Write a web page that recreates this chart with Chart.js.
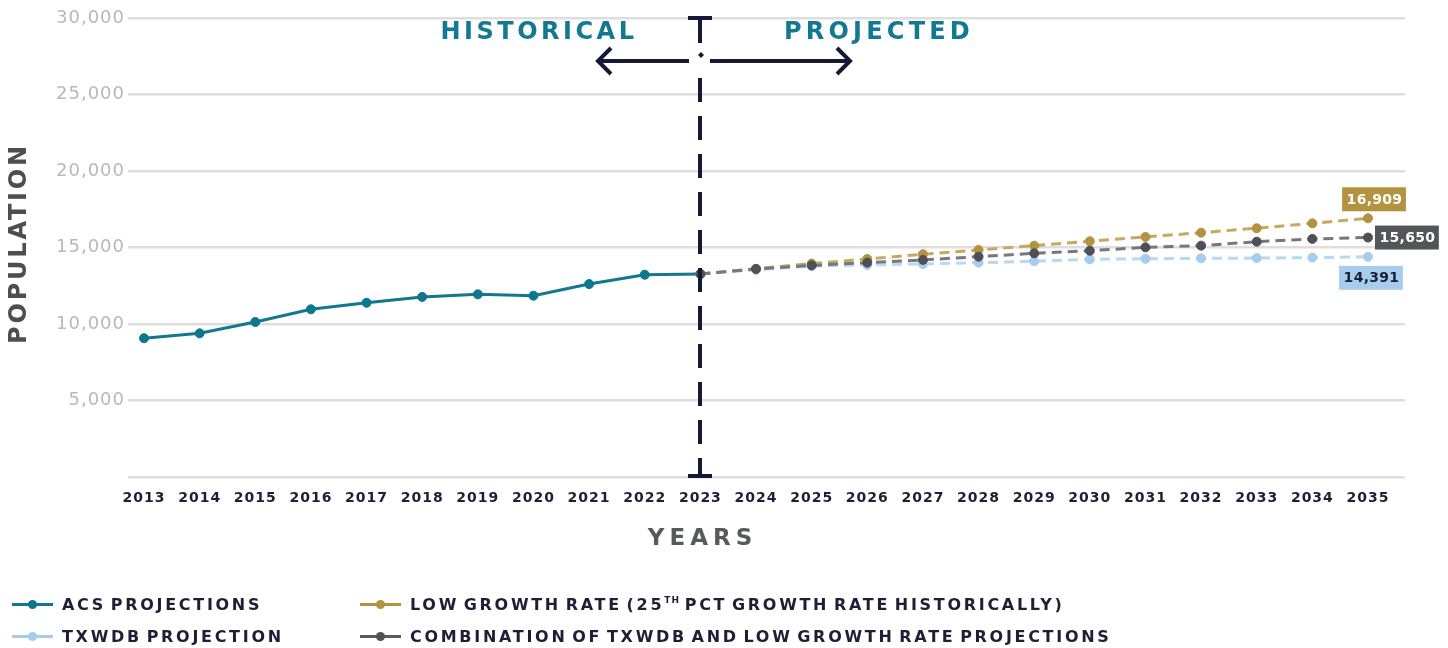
<!DOCTYPE html>
<html>
<head>
<meta charset="utf-8">
<script src="https://cdn.jsdelivr.net/npm/chart.js@4.4.1/dist/chart.umd.min.js"></script>
<style>
html,body{margin:0;padding:0;background:#ffffff;}
#wrap{position:relative;width:1448px;height:648px;overflow:hidden;}
#c{position:absolute;left:0;top:0;}
#legend{position:absolute;left:0;top:0;width:1448px;height:648px;pointer-events:none;
  font-family:"DejaVu Sans";font-weight:bold;font-size:16px;letter-spacing:2.7px;word-spacing:-3.5px;color:#1c1f35;}
.item{position:absolute;display:flex;align-items:center;white-space:nowrap;height:20px;}
.mk{position:relative;width:41px;height:20px;margin-right:9px;flex:none;}
.mk .ln{position:absolute;left:0;right:0;top:9px;height:3px;}
.mk .dt{position:absolute;left:16px;top:6px;width:9px;height:9px;border-radius:50%;}
.item sup{font-size:9px;letter-spacing:1px;vertical-align:7px;line-height:0;}
</style>
</head>
<body>
<div id="wrap">
  <canvas id="c" width="1448" height="648"></canvas>
  <div id="legend"></div>
</div>
<script>
// ---------- DATA ----------
const histYears = [2013, 2014, 2015, 2016, 2017, 2018, 2019, 2020, 2021, 2022, 2023];
const acsValues = [9070, 9390, 10130, 10960, 11390, 11770, 11940, 11850, 12610, 13220, 13270];

const projYears = [2023, 2024, 2025, 2026, 2027, 2028, 2029, 2030, 2031, 2032, 2033, 2034, 2035];
const lowGrowthValues = [13270, 13610, 13950, 14250, 14560, 14840, 15120, 15410, 15690, 15970, 16260, 16580, 16909];
const txwdbValues     = [13270, 13540, 13790, 13860, 13920, 14010, 14100, 14230, 14260, 14290, 14310, 14340, 14391];
const combinedValues  = [13270, 13600, 13830, 14010, 14190, 14400, 14620, 14790, 15010, 15120, 15380, 15560, 15650];

const xTickYears = [2013, 2014, 2015, 2016, 2017, 2018, 2019, 2020, 2021, 2022, 2023, 2024,
                    2025, 2026, 2027, 2028, 2029, 2030, 2031, 2032, 2033, 2034, 2035];
const yTickValues = [0, 5000, 10000, 15000, 20000, 25000, 30000];

const seriesNames = [
  'ACS PROJECTIONS',
  'LOW GROWTH RATE (25TH PCT GROWTH RATE HISTORICALLY)',
  'TXWDB PROJECTION',
  'COMBINATION OF TXWDB AND LOW GROWTH RATE PROJECTIONS'
];
const xAxisTitle = 'YEARS';
const yAxisTitle = 'POPULATION';
const periodLabels = ['HISTORICAL', 'PROJECTED'];
const dividerYear = 2023;

// ---------- HELPERS ----------
const FONT = 'DejaVu Sans';
function toPoints(years, values) {
  return years.map((yr, i) => ({ x: yr, y: values[i] }));
}
const fmt = v => Number(v).toLocaleString('en-US');

// ---------- PLUGINS ----------
const spacingPlugin = {
  id: 'spacing',
  beforeDraw(chart) {
    chart.ctx.letterSpacing = '1px';
    const spec = {
      x: { ls: '5px', shift: c => [-c.chartArea.left / 2, 0] },
      y: { ls: '2.8px', shift: () => [0, -4] }
    };
    for (const id of Object.keys(spec)) {
      const sc = chart.scales[id];
      if (sc && !sc._lsPatched) {
        const orig = sc.drawTitle;
        const s = spec[id];
        sc.drawTitle = function () {
          const c = this.ctx;
          const [dx, dy] = s.shift(this.chart);
          c.save();
          c.letterSpacing = s.ls;
          c.translate(dx, dy);
          orig.call(this);
          c.restore();
        };
        sc._lsPatched = true;
      }
    }
  }
};

const annotationPlugin = {
  id: 'annotations',
  afterDatasetsDraw(chart) {
    const { ctx, chartArea, scales } = chart;
    const x = Math.round(scales.x.getPixelForValue(dividerYear));
    const top = chartArea.top, bottom = chartArea.bottom;
    const navy = '#141a35';
    ctx.save();
    ctx.letterSpacing = '0px';
    ctx.fillStyle = navy;
    ctx.strokeStyle = navy;
    // T caps
    ctx.fillRect(x - 12, top - 2, 24, 4);
    ctx.fillRect(x - 12, bottom - 3, 24, 4);
    // top stem
    ctx.fillRect(x - 2, top, 4, 25);
    // dashed stem
    ctx.lineWidth = 4;
    ctx.setLineDash([24, 14]);
    ctx.beginPath();
    ctx.moveTo(x, top + 60);
    ctx.lineTo(x, bottom);
    ctx.stroke();
    ctx.setLineDash([]);
    // small diamond
    const dy = top + 37;
    ctx.beginPath();
    ctx.moveTo(x + 1, dy - 3); ctx.lineTo(x + 4, dy); ctx.lineTo(x + 1, dy + 3); ctx.lineTo(x - 2, dy);
    ctx.closePath(); ctx.fill();
    // arrows
    const ay = top + 43;
    ctx.lineWidth = 4;
    ctx.lineJoin = 'miter';
    ctx.lineCap = 'butt';
    ctx.beginPath();
    ctx.moveTo(x - 100, ay); ctx.lineTo(x - 11, ay);
    ctx.moveTo(x + 10, ay); ctx.lineTo(x + 148, ay);
    ctx.stroke();
    ctx.beginPath();
    ctx.moveTo(x - 89, ay - 13); ctx.lineTo(x - 102, ay); ctx.lineTo(x - 89, ay + 13);
    ctx.moveTo(x + 137, ay - 13); ctx.lineTo(x + 150, ay); ctx.lineTo(x + 137, ay + 13);
    ctx.stroke();
    // period labels
    ctx.fillStyle = '#137891';
    ctx.font = 'bold 24px "' + FONT + '"';
    ctx.textBaseline = 'middle';
    ctx.textAlign = 'center';
    ctx.letterSpacing = '3.5px';
    ctx.fillText(periodLabels[0], x - 161, top + 15);
    ctx.letterSpacing = '4.2px';
    ctx.fillText(periodLabels[1], x + 179, top + 15);

    // end value labels
    ctx.letterSpacing = '0.3px';
    ctx.font = 'bold 14px "' + FONT + '"';
    chart.data.datasets.forEach((ds, i) => {
      if (!ds.endLabel) return;
      const meta = chart.getDatasetMeta(i);
      const pt = meta.data[meta.data.length - 1];
      const val = ds.data[ds.data.length - 1].y;
      const txt = fmt(val);
      const w = ctx.measureText(txt).width + 8;
      const h = 24;
      let bx, by;
      if (ds.endLabel.pos === 'above') { bx = pt.x + 6 - w / 2; by = pt.y - 7 - h; }
      else if (ds.endLabel.pos === 'right') { bx = pt.x + 7; by = pt.y - h / 2; }
      else { bx = pt.x + 3 - w / 2; by = pt.y + 9; }
      ctx.fillStyle = ds.endLabel.bg;
      ctx.fillRect(bx, by, w, h);
      ctx.fillStyle = ds.endLabel.color;
      ctx.textAlign = 'center';
      ctx.fillText(txt, bx + w / 2 + 0.5, by + h / 2 + 1);
    });
    ctx.restore();
  }
};

const htmlLegendPlugin = {
  id: 'htmlLegend',
  afterUpdate(chart) {
    const box = document.getElementById('legend');
    box.innerHTML = '';
    const colX = [12, 360];
    const rowY = [594, 626];
    chart.data.datasets.forEach((ds, i) => {
      const item = document.createElement('div');
      item.className = 'item';
      item.style.left = colX[i % 2] + 'px';
      item.style.top = rowY[Math.floor(i / 2)] + 'px';
      const mk = document.createElement('span');
      mk.className = 'mk';
      const ln = document.createElement('span');
      ln.className = 'ln';
      ln.style.background = ds.legendLine || ds.borderColor;
      const dt = document.createElement('span');
      dt.className = 'dt';
      dt.style.background = ds.pointBackgroundColor;
      mk.appendChild(ln); mk.appendChild(dt);
      const tx = document.createElement('span');
      tx.innerHTML = ds.label.replace(/(\d)TH\b/, '$1<sup>TH</sup>');
      item.appendChild(mk); item.appendChild(tx);
      box.appendChild(item);
    });
  }
};

// ---------- CHART ----------
const common = { borderWidth: 3, pointRadius: 4.5, pointBorderWidth: 1, pointHoverRadius: 4.5, fill: false, tension: 0 };

new Chart(document.getElementById('c'), {
  type: 'line',
  data: {
    datasets: [
      Object.assign({}, common, {
        label: seriesNames[0], data: toPoints(histYears, acsValues),
        borderColor: '#12778f', pointBackgroundColor: '#0f7690', pointBorderColor: '#0f7690',
        order: 3
      }),
      Object.assign({}, common, {
        label: seriesNames[1], data: toPoints(projYears, lowGrowthValues),
        borderColor: '#c7a85e', pointBackgroundColor: '#b39340', pointBorderColor: '#b39340',
        legendLine: '#b39340', borderDash: [10, 6], order: 1,
        endLabel: { pos: 'above', bg: '#b39340', color: '#ffffff' }
      }),
      Object.assign({}, common, {
        label: seriesNames[2], data: toPoints(projYears, txwdbValues),
        borderColor: '#b9d8f2', pointBackgroundColor: '#a6ccee', pointBorderColor: '#a6ccee',
        legendLine: '#a6ccee', borderDash: [10, 6], order: 2,
        endLabel: { pos: 'below', bg: '#a6ccee', color: '#1a1f36' }
      }),
      Object.assign({}, common, {
        label: seriesNames[3], data: toPoints(projYears, combinedValues),
        borderColor: '#77787d', pointBackgroundColor: '#4f5056', pointBorderColor: '#4f5056',
        legendLine: '#5a5b60', borderDash: [10, 6], order: 0,
        endLabel: { pos: 'right', bg: '#545559', color: '#ffffff' }
      })
    ]
  },
  options: {
    responsive: false,
    animation: false,
    devicePixelRatio: 1,
    layout: { padding: { top: 18, right: 43, left: 0, bottom: 0 } },
    plugins: { legend: { display: false }, tooltip: { enabled: false } },
    scales: {
      x: {
        type: 'linear',
        min: 2012.712,
        max: 2035.665,
        afterBuildTicks: s => { s.ticks = xTickYears.map(v => ({ value: v })); },
        afterFit: s => { s.height = 171; },
        grid: { display: false, drawTicks: false },
        border: { display: false },
        ticks: {
          autoSkip: false, maxRotation: 0, padding: 13, color: '#1c1f35',
          font: { family: FONT, weight: 'bold', size: 14 },
          callback: v => String(v)
        },
        title: {
          display: true, text: xAxisTitle, color: '#58595b',
          font: { family: FONT, weight: 'bold', size: 23 },
          padding: { top: 0, bottom: 95 }
        }
      },
      y: {
        min: 0,
        max: 30000,
        afterBuildTicks: s => { s.ticks = yTickValues.map(v => ({ value: v })); },
        afterFit: s => { s.width = 128; },
        grid: { color: '#dedede', lineWidth: 2.5, drawTicks: false },
        border: { display: false },
        ticks: {
          padding: 3, color: '#b8b8b8',
          font: { family: FONT, size: 18 },
          callback: v => (v === 0 ? '' : fmt(v))
        },
        title: {
          display: true, text: yAxisTitle, color: '#4d4e52',
          font: { family: FONT, weight: 'bold', size: 24 },
          padding: { top: 5, bottom: 0 }
        }
      }
    }
  },
  plugins: [spacingPlugin, annotationPlugin, htmlLegendPlugin]
});
</script>
</body>
</html>
